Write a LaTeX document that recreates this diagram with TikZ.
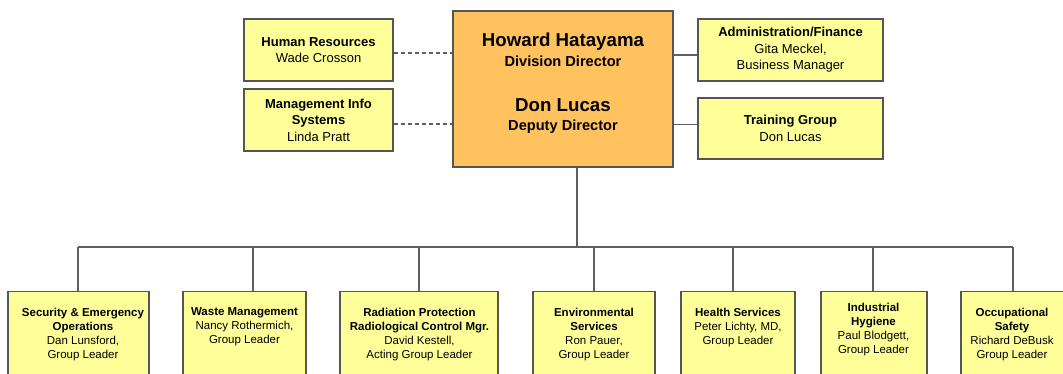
\documentclass[tikz,border=0pt]{standalone}
\usepackage{fontspec}
\setmainfont{Liberation Sans}
\definecolor{boxyellow}{HTML}{FFFF99}
\definecolor{boxorange}{HTML}{FFC25E}
\definecolor{edgegray}{HTML}{555555}
\definecolor{linegray}{HTML}{606060}
\tikzset{
  ybox/.style={draw=edgegray, line width=1.4pt, fill=boxyellow, inner sep=0pt, align=center},
  obox/.style={draw=edgegray, line width=1.4pt, fill=boxorange, inner sep=0pt},
  sidetext/.style={font=\fontsize{13}{16.5}\selectfont},
  lowtext/.style={inner sep=0pt, align=center, anchor=north, font=\fontsize{11.5}{14}\selectfont},
  nametext/.style={inner sep=0pt, anchor=base, font=\fontsize{18.7}{22}\selectfont\bfseries},
  titletext/.style={inner sep=0pt, anchor=base, font=\fontsize{14.6}{18}\selectfont\bfseries},
  conn/.style={draw=linegray, line width=1.3pt},
  dconn/.style={draw=linegray, line width=1.3pt, dash pattern=on 4pt off 3pt},
  lowbox/.style={ybox, anchor=north, minimum height=95pt}
}
\begin{document}
\begin{tikzpicture}[x=1pt,y=-1pt]
\useasboundingbox (0,0) rectangle (1063,373);
\clip (0,0) rectangle (1063,373);
\fill[white] (0,0) rectangle (1063,373);

% director box
\node[obox, minimum width=220pt, minimum height=156pt] (dir) at (563,89) {};
\node[nametext] (n1) at (563,46.7) {Howard Hatayama};
\node[titletext] (t1) at (563,66) {Division Director};
\node[nametext] (n2) at (563,111.7) {Don Lucas};
\node[titletext] (t2) at (563,130) {Deputy Director};

% side boxes
\node[ybox, sidetext, minimum width=149pt, minimum height=62pt] (hr) at (318.5,50)
  {\textbf{Human Resources}\\Wade Crosson};
\node[ybox, sidetext, minimum width=149pt, minimum height=62pt] (mis) at (318.5,120)
  {\textbf{Management Info}\\\textbf{Systems}\\Linda Pratt};
\node[ybox, sidetext, minimum width=185pt, minimum height=62pt] (adm) at (790.5,50)
  {\textbf{Administration/Finance}\\Gita Meckel,\\Business Manager};
\node[ybox, sidetext, minimum width=185pt, minimum height=61pt] (trn) at (790.5,128.5)
  {\textbf{Training Group}\\Don Lucas};

\draw[dconn] ([yshift=-3pt]hr.east) -- ([yshift=-3pt]hr.east -| dir.west);
\draw[dconn] ([yshift=-4pt]mis.east) -- ([yshift=-4pt]mis.east -| dir.west);
\draw[conn] ([yshift=-5pt]adm.west) -- ([yshift=-5pt]adm.west -| dir.east);
\draw[conn] ([yshift=4pt]trn.west) -- ([yshift=4pt]trn.west -| dir.east);

% bottom boxes
\node[lowbox, minimum width=141pt] (b1) at (78.5,291) {};
\node[lowbox, minimum width=123pt] (b2) at (244.5,291) {};
\node[lowbox, minimum width=158pt] (b3) at (419,291) {};
\node[lowbox, minimum width=122pt] (b4) at (594,291) {};
\node[lowbox, minimum width=114pt] (b5) at (738,291) {};
\node[lowbox, minimum width=106pt] (b6) at (874,291) {};
\node[lowbox, minimum width=110pt] (b7) at (1016,291) {};

\node[lowtext] (l1) at (83,308) {\textbf{Security \& Emergency}\\\textbf{Operations}\\Dan Lunsford,\\Group Leader};
\node[lowtext] (l2) at (244.5,307) {\textbf{Waste Management}\\Nancy Rothermich,\\Group Leader};
\node[lowtext] (l3) at (419.5,308) {\textbf{Radiation Protection}\\\textbf{Radiological Control Mgr.}\\David Kestell,\\Acting Group Leader};
\node[lowtext] (l4) at (594,308) {\textbf{Environmental}\\\textbf{Services}\\Ron Pauer,\\Group Leader};
\node[lowtext] (l5) at (738,308) {\textbf{Health Services}\\Peter Lichty, MD,\\Group Leader};
\node[lowtext] (l6) at (873.5,303) {\textbf{Industrial}\\\textbf{Hygiene}\\Paul Blodgett,\\Group Leader};
\node[lowtext] (l7) at (1012,308) {\textbf{Occupational}\\\textbf{Safety}\\Richard DeBusk\\Group Leader};

% tree connectors
\coordinate (busL) at (78,247);
\coordinate (busR) at (1013,247);
\draw[conn] ([xshift=14pt]dir.south) -- ([xshift=14pt]dir.south |- busL);
\draw[conn] (busL) -- (busR);
\draw[conn] ([xshift=-0.5pt]b1.north) -- ([xshift=-0.5pt]b1.north |- busL);
\draw[conn] ([xshift=8.5pt]b2.north) -- ([xshift=8.5pt]b2.north |- busL);
\draw[conn] (b3.north) -- (b3.north |- busL);
\draw[conn] (b4.north) -- (b4.north |- busL);
\draw[conn] ([xshift=-5pt]b5.north) -- ([xshift=-5pt]b5.north |- busL);
\draw[conn] ([xshift=-1pt]b6.north) -- ([xshift=-1pt]b6.north |- busL);
\draw[conn] ([xshift=-3pt]b7.north) -- ([xshift=-3pt]b7.north |- busL);
\end{tikzpicture}
\end{document}
